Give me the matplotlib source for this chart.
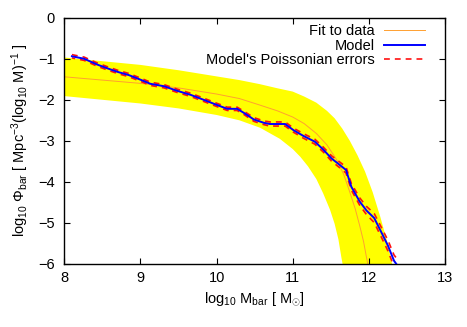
import matplotlib
matplotlib.use("Agg")
import matplotlib.pyplot as plt
import numpy as np

plt.rcParams['font.family'] = ['Liberation Sans', 'DejaVu Sans']
plt.rcParams['mathtext.fontset'] = 'custom'
plt.rcParams['mathtext.rm'] = 'Liberation Sans'
plt.rcParams['mathtext.it'] = 'Liberation Sans:italic'
plt.rcParams['font.size'] = 10.5

# fit to data (Schechter-like)
fit_x = [8.0, 8.5, 9.0, 9.5, 10.0, 10.3, 10.57, 10.8, 11.0, 11.15, 11.31, 11.45,
         11.58, 11.67, 11.75, 11.82, 11.88, 11.93, 11.97, 11.99]
fit_y = [-1.44, -1.52, -1.60, -1.71, -1.86, -1.97, -2.13, -2.27, -2.42, -2.58, -2.82, -3.10,
         -3.47, -3.82, -4.25, -4.65, -5.07, -5.45, -5.85, -6.05]

# uncertainty band of the fit
band_up_x = [8.0, 8.5, 9.0, 9.5, 10.0, 10.3, 10.57, 10.8, 11.0, 11.15, 11.31, 11.45,
             11.55, 11.65, 11.75, 11.85, 11.95, 12.05, 12.15, 12.24, 12.31]
band_up_y = [-0.97, -1.06, -1.15, -1.28, -1.43, -1.52, -1.62, -1.72, -1.80, -1.92, -2.07, -2.27,
             -2.45, -2.70, -3.00, -3.35, -3.75, -4.25, -4.85, -5.45, -6.05]
band_lo_x = [8.0, 8.5, 9.0, 9.5, 10.0, 10.3, 10.57, 10.83, 11.0, 11.10, 11.2, 11.31,
             11.40, 11.49, 11.55, 11.60, 11.64, 11.66]
band_lo_y = [-1.91, -2.00, -2.09, -2.21, -2.37, -2.50, -2.68, -2.95, -3.20, -3.39, -3.62, -3.93,
             -4.28, -4.68, -5.02, -5.40, -5.85, -6.05]

# model and its poissonian errors
model_x = [8.10, 8.26, 8.43, 8.56, 8.70, 8.85, 9.00, 9.13, 9.31, 9.48, 9.66, 9.83,
           10.01, 10.14, 10.27, 10.36, 10.49, 10.62, 10.70, 10.90, 11.01, 11.14, 11.29,
           11.40, 11.51, 11.62, 11.70, 11.77, 11.88, 11.97, 12.07, 12.17, 12.25, 12.33, 12.38]
model_y = [-0.94, -1.00, -1.14, -1.23, -1.32, -1.40, -1.51, -1.61, -1.67, -1.78, -1.88, -2.00,
           -2.13, -2.22, -2.22, -2.32, -2.48, -2.56, -2.59, -2.59, -2.74, -2.88, -3.02,
           -3.21, -3.43, -3.59, -3.71, -4.12, -4.48, -4.70, -4.88, -5.25, -5.55, -5.92, -6.05]
model_err = [0.04, 0.04, 0.04, 0.04, 0.04, 0.04, 0.04, 0.04, 0.04, 0.04, 0.04, 0.04,
             0.04, 0.04, 0.04, 0.04, 0.045, 0.045, 0.05, 0.05, 0.05, 0.055, 0.06,
             0.06, 0.065, 0.07, 0.075, 0.08, 0.09, 0.10, 0.11, 0.12, 0.13, 0.14, 0.15]

fig = plt.figure(figsize=(4.67, 3.27), dpi=100)
ax = fig.add_axes([0.1377, 0.1927, 0.8152, 0.7532])

# band polygon: upper edge left->right, lower edge right->left
poly_x = band_up_x + band_lo_x[::-1]
poly_y = band_up_y + band_lo_y[::-1]
ax.fill(poly_x, poly_y, color='#ffff00', lw=0, zorder=1)

ax.plot(fit_x, fit_y, color='#ffa030', lw=0.7, label='Fit to data', zorder=2)
my = np.array(model_y)
me = np.array(model_err)
ax.plot(model_x, my + me, color='#ff1010', lw=1.2, ls=(0, (3.5, 3)),
        label="Model's Poissonian errors", zorder=3)
ax.plot(model_x, my - me, color='#ff1010', lw=1.2, ls=(1.5, (3.5, 3)), zorder=3)
ax.plot(model_x, model_y, color='#0000ff', lw=1.4, label='Model', zorder=4)

ax.set_xlim(8, 13)
ax.set_ylim(-6, 0)
ax.set_xticks([8, 9, 10, 11, 12, 13])
ax.set_yticks([-6, -5, -4, -3, -2, -1, 0])
ax.tick_params(direction='in', top=True, right=True, length=4.5, width=0.8,
               labelsize=10.5)
ax.tick_params(axis='x', pad=5)
ax.tick_params(axis='y', pad=7)
for s in ax.spines.values():
    s.set_linewidth(1.0)

ax.set_xlabel(r'log$_{10}$ M$_{\rm bar}$ [ M$_{\odot}$]', fontsize=10.5, labelpad=4)
ax.set_ylabel(r'log$_{10}$ $\Phi_{\rm bar}$ [ Mpc$^{-3}$(log$_{10}$ M)$^{-1}$ ]',
              fontsize=10.5, labelpad=5)

h, l = ax.get_legend_handles_labels()
order = [l.index('Fit to data'), l.index('Model'), l.index("Model's Poissonian errors")]
ax.legend([h[i] for i in order], [l[i] for i in order], loc='upper right',
          bbox_to_anchor=(1 - 10 / 381, 1 + 4 / 246),
          frameon=False, markerfirst=False, handlelength=2.8, handletextpad=0.65,
          labelspacing=0.05, borderaxespad=0.3, fontsize=10.5)

fig.savefig('out.png', dpi=100)
